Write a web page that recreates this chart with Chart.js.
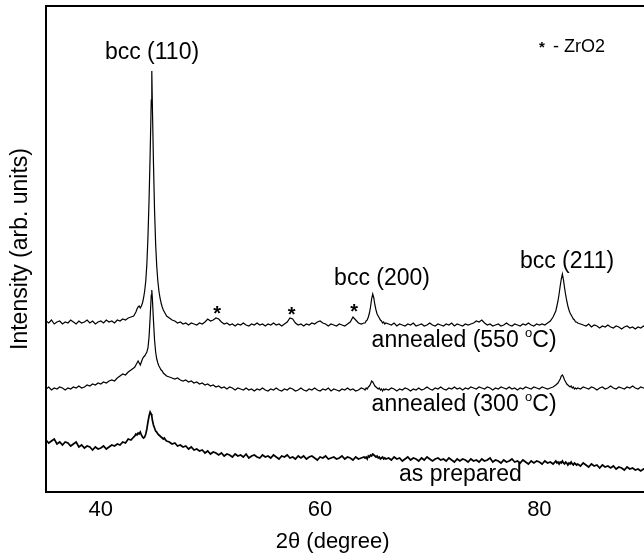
<!DOCTYPE html>
<html>
<head>
<meta charset="utf-8">
<script src="https://cdn.jsdelivr.net/npm/chart.js@4.4.1/dist/chart.umd.min.js"></script>
<style>
  html, body { margin: 0; padding: 0; background: #fff; overflow: hidden; }
  #xrd { display: block; width: 656px; height: 556px; }
</style>
</head>
<body>
<canvas id="xrd" width="656" height="556"></canvas>
<script>
// 2-theta grid (degrees), finer around the bcc peaks
const twoTheta = [
  35, 35.25, 35.5, 35.75, 36, 36.25, 36.5, 36.75, 37, 37.25, 37.5, 37.75, 38, 38.25, 38.5, 38.75,
  39, 39.25, 39.5, 39.75, 40, 40.25, 40.5, 40.75, 41, 41.25, 41.5, 41.75, 42, 42.25, 42.5, 42.75, 43,
  43.1, 43.2, 43.3, 43.4, 43.5, 43.6, 43.7, 43.8, 43.9, 44, 44.1, 44.2, 44.3, 44.4, 44.5, 44.6,
  44.65, 44.7, 44.8, 44.9, 45, 45.1, 45.2, 45.3, 45.4, 45.5, 45.6, 45.7, 45.8, 45.9, 46,
  46.25, 46.5, 46.75, 47, 47.25, 47.5, 47.75, 48, 48.25, 48.5, 48.75, 49,
  49.25, 49.5, 49.75, 50, 50.25, 50.5, 50.75, 51, 51.25, 51.5, 51.75, 52,
  52.25, 52.5, 52.75, 53, 53.25, 53.5, 53.75, 54, 54.25, 54.5, 54.75, 55,
  55.25, 55.5, 55.75, 56, 56.25, 56.5, 56.75, 57, 57.25, 57.5, 57.75, 58,
  58.25, 58.5, 58.75, 59, 59.25, 59.5, 59.75, 60, 60.25, 60.5, 60.75, 61,
  61.25, 61.5, 61.75, 62, 62.25, 62.5, 62.75, 63, 63.25, 63.5, 63.75, 64,
  64.1, 64.2, 64.3, 64.4, 64.5, 64.6, 64.7, 64.8, 64.9, 65, 65.1, 65.2, 65.3, 65.4, 65.5, 65.6, 65.7, 65.8, 65.9, 66,
  66.25, 66.5, 66.75, 67, 67.25, 67.5, 67.75, 68, 68.25, 68.5,
  68.75, 69, 69.25, 69.5, 69.75, 70, 70.25, 70.5, 70.75, 71,
  71.25, 71.5, 71.75, 72, 72.25, 72.5, 72.75, 73, 73.25, 73.5,
  73.75, 74, 74.25, 74.5, 74.75, 75, 75.25, 75.5, 75.75, 76,
  76.25, 76.5, 76.75, 77, 77.25, 77.5, 77.75, 78, 78.25, 78.5,
  78.75, 79, 79.25, 79.5, 79.75, 80, 80.25, 80.5, 80.75, 81,
  81.25, 81.5,
  81.6, 81.7, 81.8, 81.9, 82, 82.1, 82.2, 82.3, 82.4, 82.5, 82.6, 82.7, 82.8, 82.9, 83, 83.1, 83.2, 83.3, 83.4,
  83.5, 83.75, 84, 84.25, 84.5, 84.75, 85, 85.25, 85.5, 85.75, 86, 86.25, 86.5, 86.75,
  87, 87.25, 87.5, 87.75, 88, 88.25, 88.5, 88.75, 89, 89.25, 89.5, 89.75, 90
];

// intensities (arb. units, stacked offsets already included)
const annealed550 = [
  171, 169, 172, 168, 170, 171, 168, 170, 169, 172, 170, 168, 171, 169, 170, 172,
  169, 171, 168, 170, 171, 169, 172, 170, 171, 169, 172, 171, 173, 172, 174, 175, 176,
  178, 180, 183, 185, 186, 184, 186, 189, 194, 201, 211, 228, 255, 292, 338, 392,
  421, 388, 330, 282, 248, 226, 211, 201, 194, 189, 185, 182, 180, 178, 176,
  174, 172, 171, 169, 170, 168, 169, 167, 169, 168, 167, 169,
  168, 170, 173, 171, 172, 174, 173, 170, 168, 169, 167, 168,
  166, 168, 167, 169, 167, 166, 168, 167, 169, 167, 168, 166,
  168, 167, 169, 167, 168, 166, 168, 170, 174, 173, 169, 167,
  168, 166, 168, 167, 169, 168, 170, 171, 169, 168, 166, 168,
  167, 166, 168, 167, 166, 168, 170, 175, 172, 169, 168, 169,
  169, 171, 172, 175, 179, 185, 193, 198, 194, 187, 182, 178, 176, 174, 172, 171, 169, 170, 168, 169,
  168, 167, 169, 166, 168, 167, 166, 168, 167, 169,
  166, 167, 168, 166, 167, 169, 167, 166, 168, 167,
  166, 168, 167, 169, 166, 168, 167, 166, 168, 167,
  168, 169, 171, 170, 172, 169, 167, 168, 166, 167,
  168, 166, 167, 169, 167, 166, 168, 167, 166, 168,
  167, 169, 167, 166, 168, 167, 168, 167, 169, 171,
  175, 181,
  186, 191, 198, 206, 213, 218, 212, 204, 197, 191, 186, 182, 179, 177, 175, 173, 172, 170, 170,
  169, 168, 167, 166, 168, 165, 167, 166, 164, 166, 165, 167, 165, 164,
  166, 165, 163, 165, 166, 164, 165, 163, 165, 164, 166, 164, 165
];

const annealed300 = [
  103, 105, 102, 104, 103, 105, 104, 102, 104, 103, 105, 104, 106, 104, 105, 107,
  106, 108, 107, 109, 108, 110, 109, 111, 112, 111, 114, 116, 118, 117, 120, 122, 124,
  125, 127, 129, 131, 129, 127, 130, 133, 135, 136, 138, 140, 144, 155, 175, 197,
  202, 194, 172, 152, 140, 133, 129, 126, 124, 122, 121, 119, 118, 117, 116,
  115, 114, 113, 114, 112, 111, 112, 110, 111, 109, 110, 108,
  109, 107, 108, 106, 107, 105, 106, 104, 105, 103, 105, 104,
  102, 104, 103, 102, 104, 102, 103, 101, 103, 102, 104, 102,
  101, 103, 102, 104, 102, 101, 103, 102, 104, 103, 101, 102,
  104, 102, 101, 103, 102, 104, 102, 101, 103, 102, 104, 101,
  103, 102, 101, 103, 102, 104, 102, 103, 101, 102, 104, 103,
  102, 104, 103, 105, 106, 108, 111, 110, 108, 106, 105, 104, 103, 104, 102, 103, 101, 103, 102, 103,
  102, 104, 103, 101, 103, 102, 104, 103, 101, 103,
  102, 104, 102, 103, 105, 103, 102, 104, 103, 105,
  103, 102, 104, 103, 105, 103, 104, 102, 104, 103,
  105, 104, 103, 105, 104, 103, 105, 104, 102, 104,
  103, 105, 104, 103, 105, 103, 104, 102, 104, 103,
  105, 104, 103, 105, 104, 103, 105, 104, 103, 104,
  105, 107,
  108, 109, 111, 113, 116, 117, 115, 112, 110, 108, 107, 106, 105, 106, 104, 105, 103, 104, 103,
  104, 103, 105, 104, 103, 105, 104, 102, 104, 105, 103, 104, 106, 104,
  103, 105, 104, 103, 105, 104, 106, 104, 103, 105, 104, 103, 105
];

const asPrepared = [
  52, 49, 51, 53, 48, 50, 47, 50, 49, 46, 48, 50, 45, 47, 44, 46,
  45, 42, 45, 43, 44, 46, 43, 45, 47, 46, 48, 47, 50, 49, 53, 52, 55,
  56, 58, 57, 59, 58, 60, 57, 55, 54, 55, 58, 63, 70, 76, 80, 78,
  76, 72, 67, 64, 61, 60, 58, 57, 56, 55, 54, 53, 54, 52, 51,
  50, 48, 49, 46, 47, 45, 46, 43, 45, 42, 43, 41,
  42, 39, 41, 38, 40, 39, 37, 39, 36, 38, 37, 35,
  38, 36, 37, 35, 38, 34, 36, 37, 35, 34, 37, 35,
  36, 34, 37, 35, 33, 36, 35, 37, 34, 35, 33, 36,
  34, 36, 33, 35, 36, 34, 32, 35, 34, 36, 33, 34,
  35, 33, 34, 36, 33, 35, 34, 32, 35, 33, 34, 35,
  34, 35, 33, 36, 35, 37, 36, 38, 37, 36, 35, 36, 34, 35, 33, 34, 35, 33, 34, 33,
  34, 32, 35, 33, 34, 31, 33, 35, 32, 34,
  33, 31, 34, 32, 35, 33, 31, 33, 34, 32,
  33, 31, 34, 32, 30, 33, 31, 33, 32, 30,
  33, 31, 32, 30, 33, 31, 32, 34, 30, 32,
  31, 29, 32, 30, 31, 33, 30, 31, 29, 32,
  30, 28, 31, 29, 31, 30, 28, 31, 29, 30,
  28, 31,
  29, 30, 28, 30, 29, 31, 29, 28, 30, 29, 27, 29, 28, 30, 28, 27, 29, 28, 27,
  28, 26, 29, 27, 25, 28, 26, 27, 24, 27, 25, 26, 24, 26,
  23, 25, 24, 22, 25, 23, 24, 22, 23, 21, 23, 22, 21
];

const seriesNames = ['annealed (550 °C)', 'annealed (300 °C)', 'as prepared'];
const seriesWidths = [1.2, 1.2, 1.7];
const xTicks = [40, 60, 80];

const FONT = "'Liberation Sans', Arial, Helvetica, sans-serif";

[annealed550, annealed300, asPrepared].forEach((s, i) => {
  if (s.length !== twoTheta.length) console.error('length mismatch', seriesNames[i], s.length, twoTheta.length);
});

// draw text so that its ink is vertically centred on y
function inkText(ctx, text, x, y, align) {
  ctx.textAlign = align || 'center';
  ctx.textBaseline = 'alphabetic';
  const m = ctx.measureText(text);
  ctx.fillText(text, x, y + (m.actualBoundingBoxAscent - m.actualBoundingBoxDescent) / 2);
}

function degreeLabel(ctx, head, x, y) {
  ctx.font = '23px ' + FONT;
  ctx.textAlign = 'left';
  ctx.textBaseline = 'alphabetic';
  const m = ctx.measureText(head + 'C)');
  const base = y + (m.actualBoundingBoxAscent - m.actualBoundingBoxDescent) / 2;
  ctx.fillText(head, x, base);
  let cx = x + ctx.measureText(head).width;
  ctx.font = '13px ' + FONT;
  ctx.fillText('o', cx, base - 10);
  cx += ctx.measureText('o').width;
  ctx.font = '23px ' + FONT;
  ctx.fillText('C)', cx, base);
}

const framePlugin = {
  id: 'frame',
  afterDatasetsDraw(chart) {
    const { ctx, chartArea: a } = chart;
    ctx.save();
    ctx.strokeStyle = '#000';
    ctx.lineWidth = 2;
    ctx.strokeRect(a.left, a.top, a.right - a.left, a.bottom - a.top);
    ctx.restore();
  }
};

const labelPlugin = {
  id: 'peakLabels',
  afterDraw(chart) {
    const { ctx } = chart;
    const sx = chart.scales.x, sy = chart.scales.y;
    const px = v => sx.getPixelForValue(v);
    const py = v => sy.getPixelForValue(v);
    ctx.save();
    ctx.fillStyle = '#000';

    ctx.font = '23px ' + FONT;
    inkText(ctx, 'bcc (110)', px(44.67), py(439.5));
    inkText(ctx, 'bcc (200)', px(65.65), py(214));
    inkText(ctx, 'bcc (211)', px(82.52), py(231));

    ctx.font = 'bold 20px ' + FONT;
    [[50.6, 182], [57.4, 181], [63.1, 184]].forEach(([x, y]) => inkText(ctx, '*', px(x), py(y)));

    ctx.font = 'bold 15px ' + FONT;
    inkText(ctx, '*', px(80.24), py(447));
    ctx.font = '18px ' + FONT;
    inkText(ctx, '- ZrO2', px(81.24), py(447), 'left');

    degreeLabel(ctx, 'annealed (550 ', px(64.7), py(152));
    degreeLabel(ctx, 'annealed (300 ', px(64.7), py(88));
    ctx.font = '23px ' + FONT;
    inkText(ctx, 'as prepared', px(67.2), py(17.5), 'left');

    ctx.font = '22px ' + FONT;
    inkText(ctx, '2\u03B8 (degree)', 332.6, 542.5);
    ctx.restore();
  }
};

new Chart(document.getElementById('xrd'), {
  type: 'line',
  data: {
    datasets: [annealed550, annealed300, asPrepared].map((vals, i) => ({
      label: seriesNames[i],
      data: twoTheta.map((x, j) => ({ x: x, y: vals[j] })),
      borderColor: '#000',
      borderWidth: seriesWidths[i],
      pointRadius: 0,
      fill: false,
      tension: 0
    }))
  },
  options: {
    responsive: false,
    animation: false,
    layout: { padding: { top: 6, right: 7, left: 0, bottom: 0 } },
    plugins: { legend: { display: false }, tooltip: { enabled: false } },
    scales: {
      x: {
        type: 'linear',
        min: 35,
        max: 90,
        grid: { display: false, drawTicks: false },
        border: { display: false },
        afterBuildTicks: s => { s.ticks = xTicks.map(v => ({ value: v })); },
        ticks: { color: '#000', padding: 5, font: { family: FONT, size: 22 } },
        afterFit: s => { s.height = 64; }
      },
      y: {
        min: 0,
        max: 486,
        grid: { display: false, drawTicks: false },
        border: { display: false },
        ticks: { display: false },
        title: {
          display: true,
          text: 'Intensity (arb. units)',
          color: '#000',
          font: { family: FONT, size: 23 },
          padding: { top: 7, bottom: 0 }
        },
        afterFit: s => { s.width = 46; }
      }
    }
  },
  plugins: [framePlugin, labelPlugin]
});
</script>
</body>
</html>
